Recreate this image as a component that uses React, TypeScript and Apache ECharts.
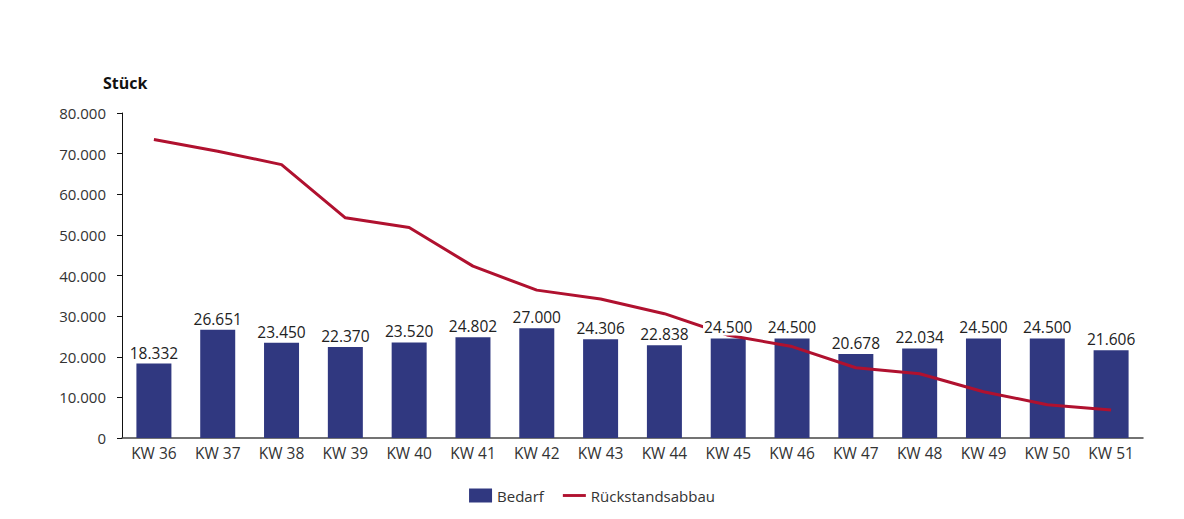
import React, { useEffect, useRef } from "react";
import * as echarts from "echarts";

const categories = ["KW 36", "KW 37", "KW 38", "KW 39", "KW 40", "KW 41", "KW 42", "KW 43", "KW 44", "KW 45", "KW 46", "KW 47", "KW 48", "KW 49", "KW 50", "KW 51"];
const bedarf = [18332, 26651, 23450, 22370, 23520, 24802, 27000, 24306, 22838, 24500, 24500, 20678, 22034, 24500, 24500, 21606];
const rueckstand = [73500, 70600, 67300, 54200, 51800, 42300, 36400, 34200, 30600, 25300, 22500, 17300, 15800, 11400, 8200, 6900];

const fmt = (v: number) => String(Math.round(v)).replace(/\B(?=(\d{3})+(?!\d))/g, ".");

const FONT = "'Open Sans', Lato, sans-serif";

export default function App() {
  const ref = useRef<HTMLDivElement>(null);
  useEffect(() => {
    if (!ref.current) return;
    const chart = echarts.init(ref.current, undefined, { renderer: "svg" });
    chart.setOption({
      animation: false,
      textStyle: { fontFamily: FONT },
      grid: { left: 122, right: 41, top: 113, bottom: 81, containLabel: false },
      title: {
        text: "Stück",
        left: 98,
        top: 70,
        textStyle: { fontSize: 16, fontWeight: "bold", color: "#111", fontFamily: FONT },
      },
      legend: {
        bottom: 11,
        left: "center",
        itemGap: 19,
        textStyle: { fontSize: 15, color: "#333", fontFamily: FONT },
        data: [
          { name: "Bedarf", icon: "rect", itemStyle: { color: "#303880" } },
          { name: "Rückstandsabbau", icon: "path://M0,0 L24,0 L24,3 L0,3 Z", itemStyle: { color: "#B0112F" } },
        ],
        itemWidth: 23,
        itemHeight: 14,
      },
      xAxis: {
        type: "category",
        data: categories,
        axisLine: { lineStyle: { color: "#444", width: 1.5 } },
        axisTick: { show: false },
        axisLabel: { fontSize: 15.5, color: "#333", margin: 7, fontFamily: FONT },
      },
      yAxis: {
        type: "value",
        min: 0,
        max: 80000,
        interval: 10000,
        splitLine: { show: false },
        axisLine: { show: true, lineStyle: { color: "#111", width: 1 } },
        axisTick: { show: true, length: 5, lineStyle: { color: "#111" } },
        axisLabel: { fontSize: 15, color: "#333", margin: 16, formatter: (v: number) => fmt(v), fontFamily: FONT },
      },
      series: [
        {
          name: "Bedarf",
          type: "bar",
          data: bedarf,
          barWidth: 35,
          barGap: "-100%",
          z: 2,
          itemStyle: { color: "#303880" },
        },
        {
          name: "Rückstandsabbau",
          type: "line",
          data: rueckstand,
          symbol: "none",
          smooth: false,
          z: 3,
          lineStyle: { color: "#B0112F", width: 3, join: "round" },
          itemStyle: { color: "#B0112F" },
        },
        {
          name: "BedarfLabels",
          type: "bar",
          data: bedarf,
          barWidth: 35,
          barGap: "-100%",
          z: 4,
          silent: true,
          itemStyle: { color: "rgba(0,0,0,0)" },
          label: {
            show: true,
            position: "top",
            distance: 3,
            fontSize: 15.5,
            color: "#222",
            fontFamily: FONT,
            backgroundColor: "#fff",
            padding: [0, 1],
            formatter: (p: any) => fmt(p.value),
          },
        },
      ],
    });
    return () => chart.dispose();
  }, []);
  return <div ref={ref} style={{ width: 1184, height: 519, margin: -8 }} />;
}
